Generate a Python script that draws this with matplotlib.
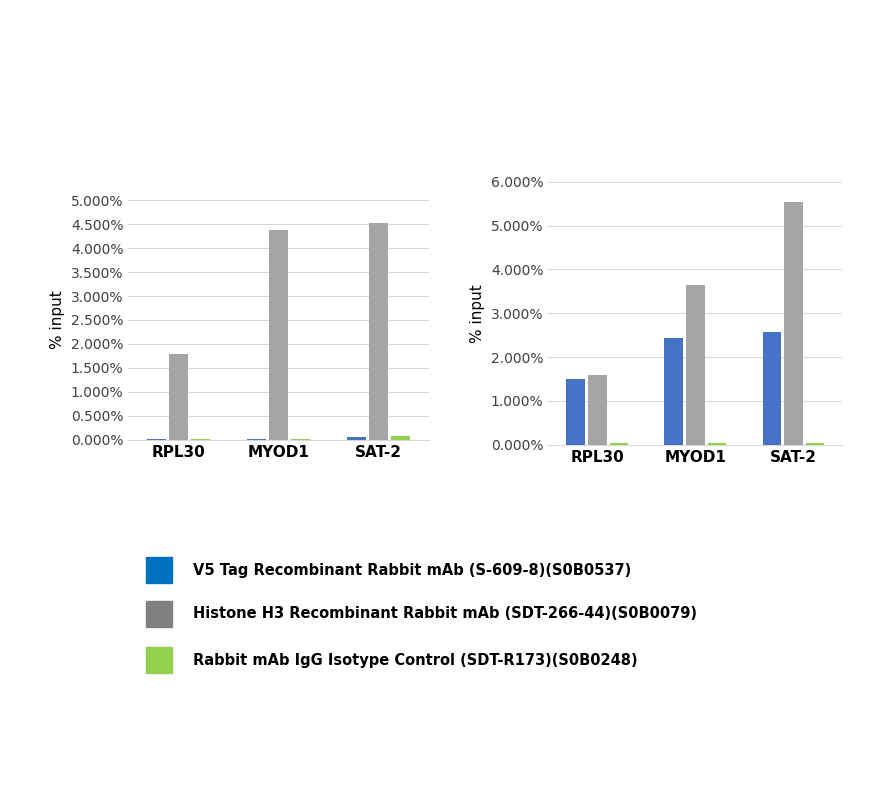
import matplotlib
matplotlib.use("Agg")
import matplotlib.pyplot as plt
import numpy as np
from matplotlib.ticker import FuncFormatter

categories = ["RPL30", "MYOD1", "SAT-2"]
left_v5 = [0.03, 0.03, 0.06]
left_h3 = [1.80, 4.38, 4.53]
left_igg = [0.02, 0.01, 0.09]
right_v5 = [1.51, 2.43, 2.58]
right_h3 = [1.59, 3.65, 5.54]
right_igg = [0.03, 0.03, 0.03]
legend_labels = ["V5 Tag Recombinant Rabbit mAb (S-609-8)(S0B0537)",
                 "Histone H3 Recombinant Rabbit mAb (SDT-266-44)(S0B0079)",
                 "Rabbit mAb IgG Isotype Control (SDT-R173)(S0B0248)"]

bar_colors = ["#4472C4", "#A5A5A5", "#92D050"]
leg_colors = ["#0070C0", "#808080", "#92D050"]

fig = plt.figure(figsize=(8.73, 7.97), dpi=100)
fig.patch.set_facecolor("white")

def panel(rect, series, ymax, step, fmt_dec):
    ax = fig.add_axes(rect)
    x = np.arange(len(categories))
    w = 0.19
    for i, (vals, c) in enumerate(zip(series, bar_colors)):
        ax.bar(x + (i - 1) * 0.22, vals, w, color=c, zorder=3)
    ax.set_ylim(0, ymax)
    ax.set_xlim(-0.5, 2.5)
    ax.set_yticks(np.arange(0, ymax + 1e-9, step))
    ax.yaxis.set_major_formatter(FuncFormatter(lambda v, p: f"{v:.{fmt_dec}f}%"))
    ax.grid(axis="y", color="#D9D9D9", lw=0.8, zorder=0)
    for s in ["top", "right", "left"]:
        ax.spines[s].set_visible(False)
    ax.spines["bottom"].set_color("#D9D9D9")
    ax.tick_params(axis="both", length=0, labelsize=10, colors="#404040")
    ax.set_xticks(x)
    ax.set_xticklabels(categories, fontsize=11, fontweight="bold", color="black")
    ax.set_ylabel("% input", fontsize=11, color="black")
    return ax

panel([0.147, 0.448, 0.344, 0.301], [left_v5, left_h3, left_igg], 5.0, 0.5, 3)
panel([0.628, 0.442, 0.337, 0.330], [right_v5, right_h3, right_igg], 6.0, 1.0, 3)

ys = [570, 614, 660]
for lab, c, y in zip(legend_labels, leg_colors, ys):
    fig.patches.append(plt.Rectangle((146 / 873, 1 - (y + 13) / 797), 26 / 873, 26 / 797,
                                     transform=fig.transFigure, color=c))
    fig.text(193 / 873, 1 - y / 797, lab, fontsize=10.5, fontweight="bold", va="center")

fig.savefig("out.png", dpi=100)
